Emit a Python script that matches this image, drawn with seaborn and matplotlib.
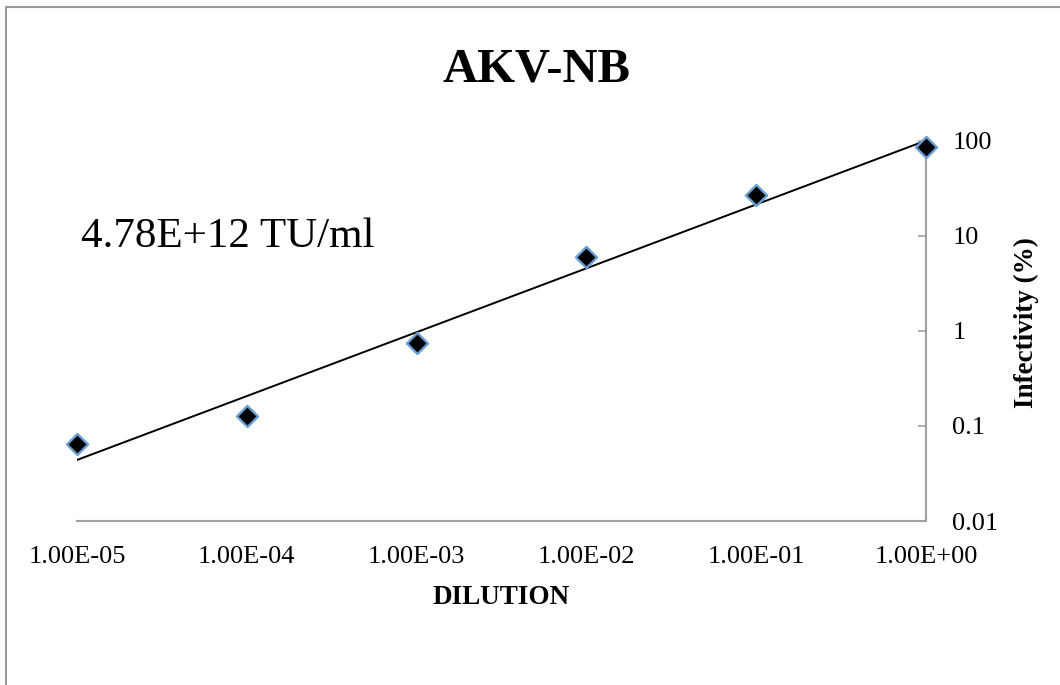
import numpy as np
import matplotlib
matplotlib.use("Agg")
import matplotlib.pyplot as plt
import seaborn as sns
from matplotlib.lines import Line2D
from matplotlib.ticker import FixedLocator, NullLocator

# ---- data ----
dilution = [1e-5, 1e-4, 1e-3, 1e-2, 1e-1, 1e0]
infectivity = [0.064, 0.128, 0.745, 6.0, 26.8, 86.0]
x_ticks = [1e-5, 1e-4, 1e-3, 1e-2, 1e-1, 1e0]
x_tick_labels = ["1.00E-05", "1.00E-04", "1.00E-03", "1.00E-02", "1.00E-01", "1.00E+00"]
y_ticks = [0.01, 0.1, 1, 10, 100]
y_tick_labels = ["0.01", "0.1", "1", "10", "100"]
title = "AKV-NB"
annotation = "4.78E+12 TU/ml"
x_label = "DILUTION"
y_label = "Infectivity (%)"

# power-law trend line (least squares in log-log space)
slope, intercept = np.polyfit(np.log10(dilution), np.log10(infectivity), 1)
trend_x = np.array([dilution[0], dilution[-1]])
trend_y = 10 ** (intercept + slope * np.log10(trend_x))

sns.set_style("white")
plt.rcParams["font.family"] = ["Liberation Serif", "DejaVu Serif"]
plt.rcParams["text.color"] = "black"
plt.rcParams["axes.labelcolor"] = "black"
plt.rcParams["xtick.color"] = "black"
plt.rcParams["ytick.color"] = "black"

fig = plt.figure(figsize=(10.6, 6.85), dpi=100)
ax = fig.add_axes([77 / 1060, 1 - 521 / 685, 849 / 1060, 380.4 / 685])

sns.lineplot(x=trend_x, y=trend_y, ax=ax, color="black", linewidth=1.4, zorder=2)
sns.scatterplot(x=dilution, y=infectivity, ax=ax, marker="D", color="black",
                edgecolor="#6a9fd4", linewidth=1.7, s=115, zorder=3)
ax.collections[-1].set_clip_on(False)

ax.set_xscale("log")
ax.set_yscale("log")
ax.set_xlim(1e-5, 1)
ax.set_ylim(0.01, 100)

ax.xaxis.set_major_locator(FixedLocator(x_ticks))
ax.xaxis.set_minor_locator(NullLocator())
ax.set_xticks(x_ticks, x_tick_labels)
ax.yaxis.set_major_locator(FixedLocator(y_ticks))
ax.yaxis.set_minor_locator(NullLocator())
ax.set_yticks(y_ticks, y_tick_labels)

ax.yaxis.tick_right()
ax.yaxis.set_label_position("right")
ax.tick_params(axis="x", length=0, pad=18, labelsize=19, labelcolor="black")
ax.tick_params(axis="y", which="major", direction="in", length=6, width=1.2,
               color="#a0a0a0", pad=19, labelsize=19, labelcolor="black",
               left=False, right=True)

for side in ["left", "top"]:
    ax.spines[side].set_visible(False)
for side in ["bottom", "right"]:
    ax.spines[side].set_visible(True)
    ax.spines[side].set_color("#a0a0a0")
    ax.spines[side].set_linewidth(1.5)

ax.set_xlabel(x_label, fontsize=19.5, fontweight="bold", va="center", color="black")
ax.xaxis.set_label_coords(0.4998, (521 - 598) / 380.4)
ax.set_ylabel(y_label, fontsize=19.5, fontweight="bold", rotation=90,
              va="center", ha="center", color="black")
ax.yaxis.set_label_coords((1026.7 - 77) / 849, (521 - 323) / 380.4)

fig.text(536.7 / 1060, 1 - 81 / 685, title, ha="center", va="baseline",
         fontsize=35, fontweight="bold", color="black")
fig.text(81 / 1060, 1 - 246.7 / 685, annotation, ha="left", va="baseline",
         fontsize=31, color="black")

# outer frame (only left and top edges visible in the reference)
fig.add_artist(Line2D([6 / 1060, 6 / 1060, 1], [0, 1 - 7 / 685, 1 - 7 / 685],
                      transform=fig.transFigure, color="#9a9a9a", linewidth=1.5))

fig.savefig("out.png", dpi=100)
